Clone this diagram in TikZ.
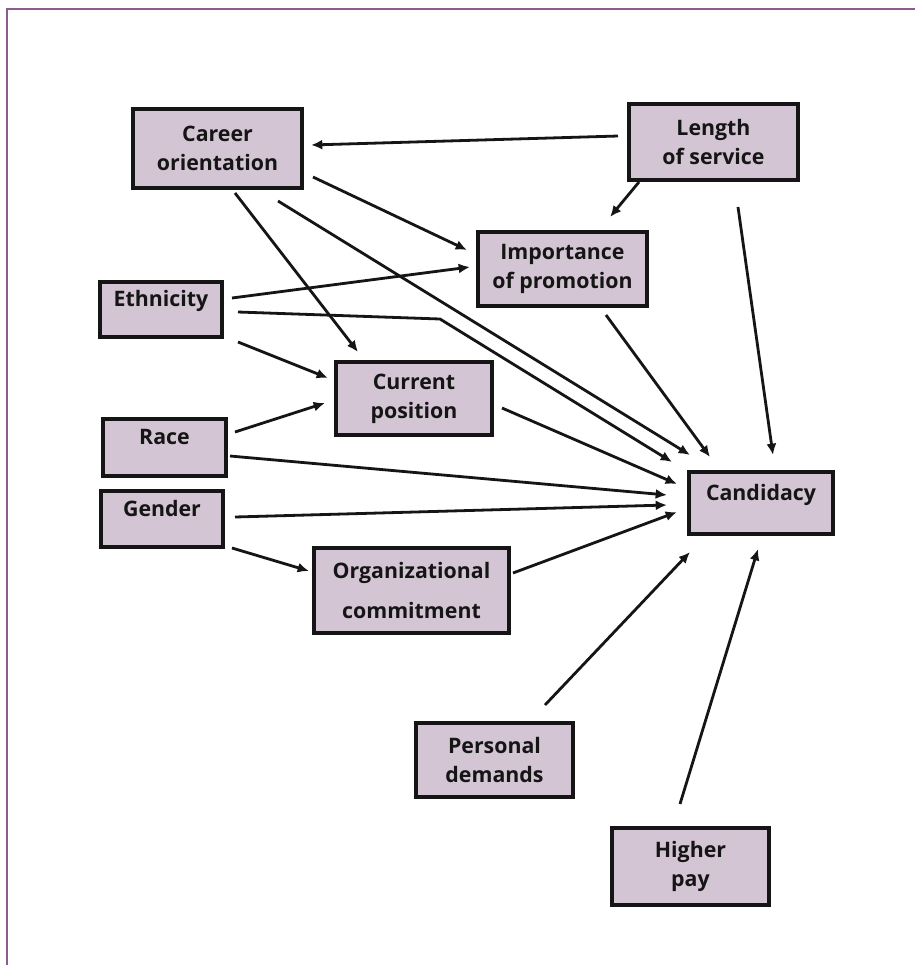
\documentclass[tikz,border=0pt]{standalone}
\usepackage{fontspec}
\setmainfont{Open Sans}
\usetikzlibrary{arrows.meta,calc}
\definecolor{boxfill}{HTML}{D3C5D3}
\definecolor{frame}{HTML}{8C5C8C}
\definecolor{ink}{HTML}{151515}
\begin{document}
\begin{tikzpicture}[x=0.75pt,y=-0.75pt,
  box/.style={draw=ink,line width=2.3pt,fill=boxfill,align=center,inner sep=0pt,
    text=ink,font=\fontsize{16}{22}\selectfont\bfseries},
  oneline/.style={text depth=16pt},
  arr/.style={draw=ink,line width=2.1pt,-{Latex[length=8.5pt,width=7.5pt]}}]
\useasboundingbox (0,0) rectangle (915,965);
\fill[white] (0,0) rectangle (915,965);
\draw[frame,line width=2pt] (7,965) -- (7,9) -- (915,9);

\node[box,minimum width=126.75pt,minimum height=59.25pt] (co) at (217.5,148.5) {Career\\orientation};
\node[box,minimum width=126.75pt,minimum height=57pt] (los) at (713.5,142) {Length\\of service};
\node[box,minimum width=126.75pt,minimum height=55.5pt] (imp) at (562.5,269) {Importance\\of promotion};
\node[box,oneline,minimum width=91.5pt,minimum height=41.25pt] (eth) at (161,309.5) {Ethnicity};
\node[box,minimum width=117pt,minimum height=54.75pt] (cur) at (414,398.5) {Current\\position};
\node[box,oneline,minimum width=92.25pt,minimum height=42.75pt] (race) at (164.5,447.5) {Race};
\node[box,oneline,minimum width=91.5pt,minimum height=42pt] (gen) at (162,519) {Gender};
\node[box,oneline,minimum width=108pt,minimum height=46.5pt] (cand) at (761,503) {Candidacy};
\node[box,minimum width=146.25pt,minimum height=63.75pt] (org) at (411.5,590.5) {Organizational\\[8pt]commitment};
\node[box,minimum width=117.75pt,minimum height=55.5pt] (pers) at (494.5,760) {Personal\\demands};
\node[box,minimum width=117.75pt,minimum height=57.75pt] (pay) at (690.5,866.5) {Higher\\pay};

\draw[arr] ($(los)+(-95.5,-6)$) -- ($(co)+(93.5,-3.5)$);
\draw[arr] ($(los)+(-74.5,40)$) -- ($(imp)+(47.5,-52)$);
\draw[arr] ($(los)+(24.5,65)$) -- ($(cand)+(12,-48)$);
\draw[arr] ($(co)+(95.5,28.5)$) -- ($(imp)+(-95.5,-19)$);
\draw[arr] ($(co)+(17.5,44.5)$) -- ($(cur)+(-56,-46.5)$);
\draw[arr] ($(co)+(60.5,52.5)$) -- ($(cand)+(-71,-48)$);
\draw[arr] ($(eth)+(71,-11.5)$) -- ($(imp)+(-92.5,-2)$);
\draw[arr] ($(eth)+(77,2.5)$) -- ($(cur)+(26,-79.5)$) -- ($(cand)+(-89,-41)$);
\draw[arr] ($(eth)+(77,32.5)$) -- ($(cur)+(-86,-20.5)$);
\draw[arr] ($(race)+(70.5,-15.5)$) -- ($(cur)+(-89,4.5)$);
\draw[arr] ($(race)+(65.5,8.5)$) -- ($(cand)+(-94,-8)$);
\draw[arr] ($(gen)+(73,-2)$) -- ($(cand)+(-94,2)$);
\draw[arr] ($(gen)+(70,29)$) -- ($(org)+(-102.5,-19.5)$);
\draw[arr] ($(cur)+(88,9.5)$) -- ($(cand)+(-84,-19)$);
\draw[arr] ($(imp)+(43.5,46)$) -- ($(cand)+(-51,-46)$);
\draw[arr] ($(org)+(101.5,-17.5)$) -- ($(cand)+(-84,9)$);
\draw[arr] ($(pers)+(50.5,-55)$) -- ($(cand)+(-71,49)$);
\draw[arr] ($(pay)+(-10.5,-62.5)$) -- ($(cand)+(-3,46)$);
\end{tikzpicture}
\end{document}
